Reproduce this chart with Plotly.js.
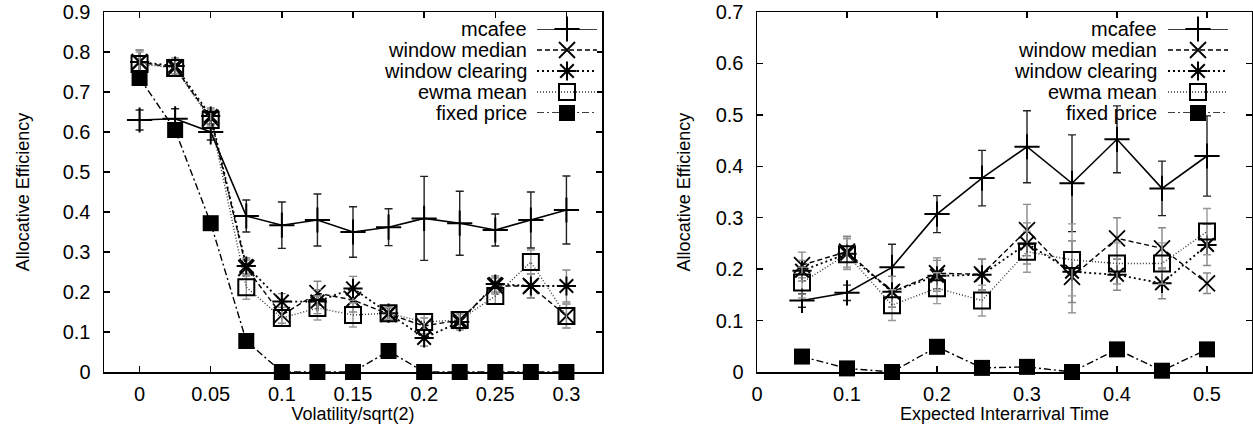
<!DOCTYPE html>
<html>
<head>
<meta charset="utf-8">
<script src="https://cdn.plot.ly/plotly-3.0.1.min.js"></script>
<style>html,body{margin:0;padding:0;background:#fff;}#chart{width:1253px;height:440px;}</style>
</head>
<body>
<div id="chart"></div>
<script>
// ---------- data: left panel (Volatility/sqrt(2)) ----------
const volX = [0, 0.025, 0.05, 0.075, 0.1, 0.125, 0.15, 0.175, 0.2, 0.225, 0.25, 0.275, 0.3];
const volMcafee      = [0.63, 0.633, 0.60, 0.39, 0.367, 0.38, 0.35, 0.362, 0.384, 0.372, 0.355, 0.38, 0.405];
const volMcafeeErr   = [0.025, 0.025, 0.02, 0.04, 0.058, 0.065, 0.063, 0.046, 0.105, 0.08, 0.04, 0.07, 0.085];
const volMedian      = [0.775, 0.76, 0.635, 0.26, 0.142, 0.197, 0.18, 0.145, 0.115, 0.13, 0.215, 0.215, 0.14];
const volMedianErr   = [0.03, 0.02, 0.02, 0.02, 0.02, 0.03, 0.03, 0.015, 0.02, 0.02, 0.02, 0.03, 0.03];
const volClearing    = [0.775, 0.765, 0.64, 0.265, 0.176, 0.176, 0.209, 0.147, 0.085, 0.125, 0.22, 0.215, 0.215];
const volClearingErr = [0.03, 0.02, 0.02, 0.02, 0.02, 0.03, 0.03, 0.015, 0.02, 0.02, 0.02, 0.03, 0.04];
const volEwma        = [0.77, 0.76, 0.63, 0.212, 0.135, 0.16, 0.1425, 0.147, 0.125, 0.13, 0.19, 0.275, 0.14];
const volEwmaErr     = [0.03, 0.02, 0.02, 0.03, 0.02, 0.03, 0.03, 0.015, 0.02, 0.02, 0.02, 0.03, 0.03];
const volFixed       = [0.735, 0.605, 0.372, 0.0775, 0, 0, 0, 0.0525, 0, 0, 0, 0, 0];

// ---------- data: right panel (Expected Interarrival Time) ----------
const iatX = [0.05, 0.1, 0.15, 0.2, 0.25, 0.3, 0.35, 0.4, 0.45, 0.5];
const iatMcafee      = [0.139, 0.154, 0.2035, 0.307, 0.377, 0.438, 0.367, 0.4525, 0.357, 0.42];
const iatMcafeeErr   = [0.013, 0.015, 0.045, 0.036, 0.054, 0.07, 0.094, 0.065, 0.053, 0.078];
const iatMedian      = [0.208, 0.234, 0.156, 0.192, 0.19, 0.276, 0.185, 0.26, 0.2405, 0.1725];
const iatMedianErr   = [0.025, 0.03, 0.03, 0.03, 0.03, 0.05, 0.07, 0.04, 0.04, 0.02];
const iatClearing    = [0.197, 0.23, 0.156, 0.187, 0.189, 0.25, 0.195, 0.189, 0.1725, 0.247];
const iatClearingErr = [0.02, 0.03, 0.03, 0.03, 0.03, 0.04, 0.06, 0.03, 0.03, 0.04];
const iatEwma        = [0.174, 0.229, 0.13, 0.163, 0.139, 0.234, 0.218, 0.211, 0.211, 0.273];
const iatEwmaErr     = [0.03, 0.03, 0.03, 0.03, 0.03, 0.04, 0.07, 0.04, 0.04, 0.045];
const iatFixed       = [0.03, 0.007, 0, 0.049, 0.008, 0.01, 0, 0.044, 0.0025, 0.044];

// ---------- labels ----------
const seriesNames = ["mcafee", "window median", "window clearing", "ewma mean", "fixed price"];
const leftXTicks = [0, 0.05, 0.1, 0.15, 0.2, 0.25, 0.3];
const leftXTickText = ["0", "0.05", "0.1", "0.15", "0.2", "0.25", "0.3"];
const leftYTicks = [0, 0.1, 0.2, 0.3, 0.4, 0.5, 0.6, 0.7, 0.8, 0.9];
const rightXTicks = [0, 0.1, 0.2, 0.3, 0.4, 0.5];
const rightYTicks = [0, 0.1, 0.2, 0.3, 0.4, 0.5, 0.6, 0.7];
const leftXTitle = "Volatility/sqrt(2)";
const rightXTitle = "Expected Interarrival Time";
const yTitle = "Allocative Efficiency";

// ---------- styles ----------
const W = 1252;
const px = p => p / W;
const FONT = "Liberation Sans, Arial, sans-serif";
const styles = [
  {dash: "solid",            width: 1.6, color: "#000", symbol: "cross-thin-open", size: 18, mlw: 2,   mcolor: "#000", errColor: "#222"},
  {dash: "5px,3px",          width: 1.4, color: "#000", symbol: "x-thin-open",     size: 16, mlw: 1.8, mcolor: "#000", errColor: "#888"},
  {dash: "2px,3px",          width: 1.8, color: "#000", symbol: "asterisk-open",   size: 16, mlw: 2,   mcolor: "#000", errColor: "#888"},
  {dash: "1px,2px",          width: 1.4, color: "#333", symbol: "square-open",     size: 16, mlw: 2,   mcolor: "#000", errColor: "#999"},
  {dash: "7px,3px,2px,3px",  width: 1.4, color: "#000", symbol: "square",          size: 16, mlw: 0,   mcolor: "#000", errColor: "#000"}
];

function mk(x, y, err, i, xa, ya) {
  const s = styles[i];
  const t = {
    x: x, y: y, xaxis: xa, yaxis: ya, type: "scatter", mode: "lines+markers",
    name: seriesNames[i], showlegend: false, cliponaxis: false,
    line: {color: s.color, width: s.width, dash: s.dash},
    marker: {symbol: s.symbol, size: s.size, color: s.mcolor, line: {color: s.mcolor, width: s.mlw}}
  };
  if (err) t.error_y = {type: "data", array: err, visible: true, color: s.errColor, thickness: 1.4, width: 4};
  return t;
}

const traces = [];
const leftSets = [[volMcafee, volMcafeeErr], [volMedian, volMedianErr], [volClearing, volClearingErr], [volEwma, volEwmaErr], [volFixed, null]];
const rightSets = [[iatMcafee, iatMcafeeErr], [iatMedian, iatMedianErr], [iatClearing, iatClearingErr], [iatEwma, iatEwmaErr], [iatFixed, null]];
leftSets.forEach((d, i) => traces.push(mk(volX, d[0], d[1], i, "x", "y")));
rightSets.forEach((d, i) => traces.push(mk(iatX, d[0], d[1], i, "x2", "y2")));

// legend keys (gnuplot style: text right-aligned, sample on the right)
const annotations = [];
function legendKeys(xa, ya) {
  seriesNames.forEach((nm, i) => {
    const s = styles[i];
    traces.push({x: [0, 1], y: [i, i], xaxis: xa, yaxis: ya, mode: "lines", showlegend: false, hoverinfo: "skip", cliponaxis: false,
      line: {color: s.color, width: s.width, dash: s.dash}});
    traces.push({x: [0.5], y: [i], xaxis: xa, yaxis: ya, mode: "markers", showlegend: false, hoverinfo: "skip", cliponaxis: false,
      marker: {symbol: s.symbol, size: s.size, color: s.mcolor, line: {color: s.mcolor, width: s.mlw}}});
  });
}
legendKeys("x3", "y3");
legendKeys("x4", "y4");

const yTop = (372 - 29) / 360, yBot = (372 - 113) / 360;
function legendText(xRightPx) {
  seriesNames.forEach((nm, i) => {
    annotations.push({xref: "paper", yref: "paper", x: px(xRightPx), y: yTop - (yTop - yBot) * i / 4,
      xanchor: "right", yanchor: "middle", text: nm, showarrow: false, font: {family: FONT, size: 20, color: "#000"}});
  });
}
legendText(529);
legendText(1159);

const axisCommon = {
  showline: true, linecolor: "#000", linewidth: 1.5, mirror: "ticks", ticks: "inside", ticklen: 6,
  tickcolor: "#000", tickwidth: 1.3, showgrid: false, zeroline: false,
  tickfont: {family: FONT, size: 20, color: "#000"}
};
const hidden = {visible: false, showgrid: false, zeroline: false, fixedrange: true};
const titleFont = {family: FONT, size: 18, color: "#000"};

const layout = {
  width: 1253, height: 440,
  margin: {l: 0, r: 1, t: 12, b: 68},
  paper_bgcolor: "#fff", plot_bgcolor: "#fff",
  showlegend: false,
  xaxis: Object.assign({}, axisCommon, {domain: [px(104), px(602)], range: [-0.025, 0.325], tickvals: leftXTicks, ticktext: leftXTickText, anchor: "y",
    ticklabelstandoff: 3, title: {text: leftXTitle, font: titleFont, standoff: 3}}),
  yaxis: Object.assign({}, axisCommon, {domain: [0, 1], range: [0, 0.9], tickvals: leftYTicks, anchor: "x", ticklabelstandoff: 8,
    title: {text: yTitle, font: titleFont, standoff: 28}}),
  xaxis2: Object.assign({}, axisCommon, {domain: [px(757), px(1252)], range: [0, 0.55], tickvals: rightXTicks, anchor: "y2",
    ticklabelstandoff: 3, title: {text: rightXTitle, font: titleFont, standoff: 3}}),
  yaxis2: Object.assign({}, axisCommon, {domain: [0, 1], range: [0, 0.7], tickvals: rightYTicks, anchor: "x2", ticklabelstandoff: 8,
    title: {text: yTitle, font: titleFont, standoff: 20}}),
  xaxis3: Object.assign({}, hidden, {domain: [px(537), px(597)], range: [0, 1], anchor: "y3"}),
  yaxis3: Object.assign({}, hidden, {domain: [yBot, yTop], range: [4, 0], anchor: "x3"}),
  xaxis4: Object.assign({}, hidden, {domain: [px(1168), px(1228)], range: [0, 1], anchor: "y4"}),
  yaxis4: Object.assign({}, hidden, {domain: [yBot, yTop], range: [4, 0], anchor: "x4"}),
  annotations: annotations
};

Plotly.newPlot("chart", traces, layout, {staticPlot: true, displayModeBar: false});
</script>
</body>
</html>
